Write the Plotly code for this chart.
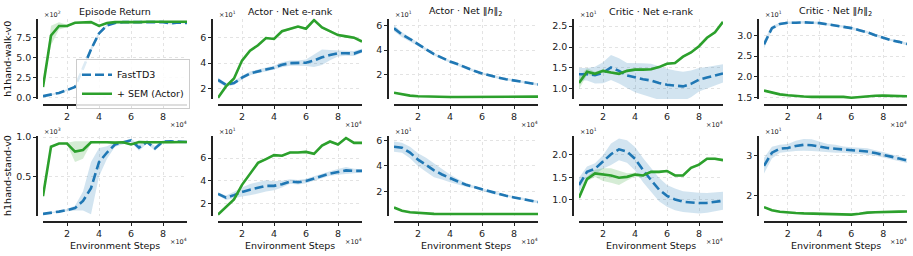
import plotly.graph_objects as go

W, H = 913, 256

steps = [5000, 10000, 15000, 20000, 25000, 30000, 35000, 40000, 45000, 50000,
         55000, 60000, 65000, 70000, 75000, 80000, 85000, 90000, 95000]

# ---------------- h1hand-walk-v0 ----------------
walk_ret_fast = [19, 36, 60, 95, 135, 365, 600, 800, 900, 930, 940, 940, 940, 945, 945, 940, 925, 935, 930]
walk_ret_fast_sd = [5, 8, 10, 12, 15, 30, 30, 20, 10, 8, 8, 8, 8, 8, 8, 10, 15, 10, 10]
walk_ret_sem = [134, 774, 893, 893, 932, 940, 940, 893, 930, 940, 940, 935, 940, 945, 945, 942, 945, 945, 945]
walk_ret_sem_sd = [20, 120, 45, 15, 10, 8, 8, 15, 10, 8, 8, 8, 8, 8, 8, 8, 8, 8, 8]

walk_erank_actor_fast = [26.8, 23.0, 24.3, 28.6, 31.9, 33.7, 35.0, 36.4, 38.7, 40.0, 40.0, 40.3, 42.0, 44.6, 46.3, 47.8, 47.8, 47.5, 49.7]
walk_erank_actor_fast_sd = [2, 1.5, 1.5, 1.5, 1.5, 1.5, 1.5, 1.5, 2, 2, 2, 2.5, 5, 6, 4, 2.5, 2, 2, 1.5]
walk_erank_actor_sem = [12.9, 21.7, 28.0, 42.0, 49.7, 54.0, 59.7, 59.0, 65.0, 66.7, 68.7, 67.0, 73.8, 68.0, 65.0, 62.0, 61.0, 60.0, 57.0]
walk_erank_actor_sem_sd = [1, 1, 1, 1, 1, 1, 1, 1, 1, 1, 1, 1, 1, 1, 1, 1, 1, 1, 1]

walk_hnorm_actor_fast = [57.7, 52.5, 49.0, 44.6, 40.7, 36.8, 33.7, 30.9, 28.6, 25.7, 23.4, 21.3, 19.5, 17.9, 16.6, 15.6, 14.5, 13.4, 12.4]
walk_hnorm_actor_fast_sd = [2.5, 2, 1.5, 1.2, 1, 1, 1, 1, 1, 1, 1, 1, 1, 1, 1, 1, 1, 1, 1]
walk_hnorm_actor_sem = [5.7, 4.4, 3.4, 2.9, 2.6, 2.5, 2.4, 2.3, 2.3, 2.3, 2.3, 2.3, 2.3, 2.4, 2.4, 2.4, 2.5, 2.5, 2.6]
walk_hnorm_actor_sem_sd = [0.4] * 19

walk_erank_critic_fast = [13.5, 13.5, 13.3, 13.85, 15.1, 14.3, 13.2, 12.7, 12.3, 12.0, 11.4, 11.0, 10.8, 10.6, 11.2, 12.2, 12.7, 13.2, 13.7]
walk_erank_critic_fast_sd = [1.5, 1.5, 2, 2.5, 3, 3, 3, 3.5, 3.8, 4, 4, 3.8, 3.6, 3.5, 3.2, 2.8, 2.5, 2.4, 2.2]
walk_erank_critic_sem = [11.4, 14.1, 13.6, 14.3, 13.9, 13.6, 14.3, 14.6, 14.6, 14.7, 15.2, 16.0, 16.2, 17.7, 18.7, 20.2, 22.2, 23.5, 26.0]
walk_erank_critic_sem_sd = [1.5, 0.8, 0.5, 0.4, 0.3, 0.3, 0.3, 0.3, 0.3, 0.3, 0.3, 0.3, 0.3, 0.3, 0.3, 0.3, 0.3, 0.3, 0.3]

walk_hnorm_critic_fast = [27.8, 31.7, 32.7, 33.0, 33.0, 33.1, 33.0, 32.9, 32.6, 32.3, 32.1, 31.7, 31.2, 30.7, 30.0, 29.4, 28.8, 28.4, 27.9]
walk_hnorm_critic_fast_sd = [1, 0.5, 0.3, 0.3, 0.3, 0.3, 0.3, 0.3, 0.3, 0.3, 0.3, 0.3, 0.3, 0.3, 0.3, 0.3, 0.3, 0.3, 0.3]
walk_hnorm_critic_sem = [16.7, 16.2, 15.8, 15.6, 15.4, 15.3, 15.2, 15.2, 15.2, 15.2, 15.2, 15.0, 15.2, 15.3, 15.45, 15.5, 15.5, 15.4, 15.35]
walk_hnorm_critic_sem_sd = [0.2] * 19

# ---------------- h1hand-stand-v0 ----------------
stand_ret_fast = [32, 44, 61, 80, 105, 195, 357, 683, 805, 906, 930, 958, 866, 937, 857, 943, 945, 945, 937]
stand_ret_fast_sd = [5, 8, 10, 15, 30, 120, 330, 180, 80, 30, 20, 20, 40, 20, 30, 15, 10, 10, 10]
stand_ret_sem = [256, 878, 918, 918, 817, 837, 934, 937, 934, 930, 934, 906, 937, 934, 930, 934, 934, 934, 937]
stand_ret_sem_sd = [20, 15, 10, 10, 130, 110, 15, 10, 10, 10, 10, 10, 10, 10, 10, 10, 10, 10, 10]

stand_erank_actor_fast = [28.3, 24.9, 27.2, 30.0, 32.0, 33.5, 35.4, 35.4, 36.9, 39.2, 38.6, 39.7, 42.0, 44.3, 46.3, 47.7, 49.1, 48.6, 48.6]
stand_erank_actor_fast_sd = [1.5, 2, 3, 4, 5, 5, 5, 4, 3, 2, 2, 2, 2, 2, 2, 2.5, 3, 2, 1.5]
stand_erank_actor_sem = [10.0, 16.3, 23.4, 36.3, 46.3, 55.7, 59.1, 62.6, 62.0, 64.9, 64.9, 65.4, 63.7, 71.1, 74.6, 72.0, 77.7, 73.4, 73.4]
stand_erank_actor_sem_sd = [1] * 19

stand_hnorm_actor_fast = [55.0, 54.2, 50.4, 44.8, 40.8, 36.5, 33.2, 30.2, 27.7, 25.1, 23.4, 21.3, 19.5, 18.0, 16.5, 15.2, 14.2, 12.9, 11.6]
stand_hnorm_actor_fast_sd = [4, 4, 4.5, 5, 5.5, 5.5, 4, 3, 2, 1.5, 1, 1, 1, 1, 1, 1, 1, 1, 1]
stand_hnorm_actor_sem = [7.3, 4.8, 3.5, 3.0, 2.5, 2.3, 2.2, 2.2, 2.1, 2.1, 2.1, 2.1, 2.1, 2.1, 2.1, 2.1, 2.1, 2.2, 2.2]
stand_hnorm_actor_sem_sd = [0.4] * 19

stand_erank_critic_fast = [13.3, 16.2, 16.9, 18.4, 20.1, 21.2, 20.7, 19.1, 16.6, 14.4, 12.3, 10.9, 10.1, 9.6, 9.4, 9.3, 9.35, 9.5, 9.8]
stand_erank_critic_fast_sd = [1.6, 1.2, 1.2, 1.5, 2.4, 2.4, 2.5, 2.6, 2.7, 2.7, 2.6, 2.4, 2.4, 2.3, 2.3, 2.3, 2.2, 2.1, 2.0]
stand_erank_critic_sem = [10.5, 14.6, 15.85, 15.6, 15.4, 14.9, 15.1, 15.6, 15.4, 16.2, 16.2, 16.4, 15.4, 15.4, 17.1, 17.8, 19.1, 19.1, 18.8]
stand_erank_critic_sem_sd = [0.5, 0.5, 0.8, 1.4, 1.6, 1.6, 0.8, 0.4, 0.3, 0.3, 0.3, 0.3, 0.3, 0.3, 0.3, 0.3, 0.3, 0.3, 0.3]

stand_hnorm_critic_fast = [27.5, 30.8, 31.8, 32.0, 32.5, 32.8, 32.7, 32.3, 32.0, 31.8, 31.6, 31.4, 31.3, 31.1, 30.7, 30.3, 29.8, 29.3, 28.8]
stand_hnorm_critic_fast_sd = [2, 1.5, 1, 1, 1.3, 1.5, 1.5, 1.2, 1, 1, 0.8, 0.8, 0.8, 0.8, 0.7, 0.7, 0.6, 0.6, 0.6]
stand_hnorm_critic_sem = [17.0, 16.2, 15.8, 15.6, 15.5, 15.4, 15.35, 15.3, 15.3, 15.3, 15.2, 15.1, 15.3, 15.6, 15.7, 15.8, 15.8, 15.85, 15.9]
stand_hnorm_critic_sem_sd = [0.2] * 19

# ---------------- labels / ticks ----------------
titles = ["Episode Return", "Actor · Net e-rank", "Actor · Net ‖<i>h</i>‖<sub>2</sub>",
          "Critic · Net e-rank", "Critic · Net ‖<i>h</i>‖<sub>2</sub>"]
row_labels = ["h1hand-walk-v0", "h1hand-stand-v0"]
series_names = ["FastTD3", "+ SEM (Actor)"]
x_tickvals = [20000, 40000, 60000, 80000]
x_ticktext = ["2", "4", "6", "8"]

y_ranges = [[-15, 985], [11.9, 75], [0.7, 65.5], [7.6, 26.8], [14.7, 34.0],
            [4, 1016], [8.6, 79.7], [0.5, 63.6], [6.4, 24.2], [14.7, 35.1]]
y_tickvals = [[0, 250, 500, 750], [20, 40, 60], [20, 40, 60], [10, 15, 20, 25], [15, 20, 25, 30],
              [500, 1000], [20, 40, 60], [20, 40, 60], [10, 15, 20], [20, 30]]
y_ticktext = [["0.0", "2.5", "5.0", "7.5"], ["2", "4", "6"], ["2", "4", "6"],
              ["1.0", "1.5", "2.0", "2.5"], ["1.5", "2.0", "2.5", "3.0"],
              ["0.5", "1.0"], ["2", "4", "6"], ["2", "4", "6"], ["1.0", "1.5", "2.0"], ["2", "3"]]
y_offsets = ["2", "1", "1", "1", "1", "3", "1", "1", "1", "1"]

panels = [
    (walk_ret_fast, walk_ret_fast_sd, walk_ret_sem, walk_ret_sem_sd),
    (walk_erank_actor_fast, walk_erank_actor_fast_sd, walk_erank_actor_sem, walk_erank_actor_sem_sd),
    (walk_hnorm_actor_fast, walk_hnorm_actor_fast_sd, walk_hnorm_actor_sem, walk_hnorm_actor_sem_sd),
    (walk_erank_critic_fast, walk_erank_critic_fast_sd, walk_erank_critic_sem, walk_erank_critic_sem_sd),
    (walk_hnorm_critic_fast, walk_hnorm_critic_fast_sd, walk_hnorm_critic_sem, walk_hnorm_critic_sem_sd),
    (stand_ret_fast, stand_ret_fast_sd, stand_ret_sem, stand_ret_sem_sd),
    (stand_erank_actor_fast, stand_erank_actor_fast_sd, stand_erank_actor_sem, stand_erank_actor_sem_sd),
    (stand_hnorm_actor_fast, stand_hnorm_actor_fast_sd, stand_hnorm_actor_sem, stand_hnorm_actor_sem_sd),
    (stand_erank_critic_fast, stand_erank_critic_fast_sd, stand_erank_critic_sem, stand_erank_critic_sem_sd),
    (stand_hnorm_critic_fast, stand_hnorm_critic_fast_sd, stand_hnorm_critic_sem, stand_hnorm_critic_sem_sd),
]

# ---------------- layout geometry (pixels) ----------------
col_px = [(43, 187), (218, 362), (394, 538), (579, 723), (764, 907)]
row_px = [(15, 98), (136, 219)]
OFF = 6

BLUE = "#1f77b4"
GREEN = "#2ca02c"
BLUE_F = "rgba(31,119,180,0.2)"
GREEN_F = "rgba(44,160,44,0.2)"
FONT = "DejaVu Sans"


def fx(p):
    return p / W


def fy(p):
    return 1 - p / H


fig = go.Figure()
annotations = []
layout = {}

for k, (fast, fast_sd, sem, sem_sd) in enumerate(panels):
    r, c = divmod(k, 5)
    idx = k + 1
    xa = "x" if idx == 1 else f"x{idx}"
    ya = "y" if idx == 1 else f"y{idx}"
    x0, x1 = col_px[c]
    top, bot = row_px[r]

    for mean, sd, fc in ((fast, fast_sd, BLUE_F), (sem, sem_sd, GREEN_F)):
        upper = [m + s for m, s in zip(mean, sd)]
        lower = [m - s for m, s in zip(mean, sd)]
        fig.add_trace(go.Scatter(x=steps + steps[::-1], y=upper + lower[::-1], fill="toself",
                                 fillcolor=fc, line=dict(width=0), mode="lines",
                                 hoverinfo="skip", showlegend=False, xaxis=xa, yaxis=ya))
    fig.add_trace(go.Scatter(x=steps, y=fast, mode="lines", name=series_names[0],
                             line=dict(color=BLUE, width=2.6, dash="9px,4px"),
                             showlegend=(k == 0), xaxis=xa, yaxis=ya))
    fig.add_trace(go.Scatter(x=steps, y=sem, mode="lines", name=series_names[1],
                             line=dict(color=GREEN, width=2.6),
                             showlegend=(k == 0), xaxis=xa, yaxis=ya))

    layout[f"xaxis{idx}"] = dict(
        domain=[fx(x0), fx(x1)], range=[5000, 95000], anchor="free", position=fy(bot + OFF),
        tickvals=x_tickvals, ticktext=x_ticktext, ticks="outside", ticklen=3, tickwidth=1,
        tickcolor="#222", showline=True, linecolor="#222", linewidth=1.6,
        showgrid=True, gridcolor="#e3e3e3", griddash="dot", gridwidth=0.8, zeroline=False,
        tickfont=dict(size=9.5, color="#222", family=FONT))
    layout[f"yaxis{idx}"] = dict(
        domain=[fy(bot), fy(top)], range=y_ranges[k], anchor="free", position=fx(x0 - OFF),
        tickvals=y_tickvals[k], ticktext=y_ticktext[k], ticks="outside", ticklen=3, tickwidth=1,
        tickcolor="#222", showline=True, linecolor="#222", linewidth=1.6,
        showgrid=True, gridcolor="#e3e3e3", griddash="dot", gridwidth=0.8, zeroline=False,
        tickfont=dict(size=9.5, color="#222", family=FONT))

    # offset text (scientific multipliers)
    annotations.append(dict(text=f"×10<sup>{y_offsets[k]}</sup>", x=fx(x0 - 1), y=fy(top - 4),
                            xref="paper", yref="paper", xanchor="left", yanchor="middle",
                            showarrow=False, font=dict(size=6.5, color="#222", family=FONT)))
    annotations.append(dict(text="×10<sup>4</sup>", x=fx(x1 + 2), y=fy(bot + OFF + 20),
                            xref="paper", yref="paper", xanchor="right", yanchor="middle",
                            showarrow=False, font=dict(size=6.5, color="#222", family=FONT)))
    if r == 0:
        annotations.append(dict(text=titles[c], x=fx((x0 + x1) / 2), y=fy(8),
                                xref="paper", yref="paper", xanchor="center", yanchor="middle",
                                showarrow=False, font=dict(size=9.5, color="#111", family=FONT)))
    else:
        annotations.append(dict(text="Environment Steps", x=fx((x0 + x1) / 2), y=fy(249),
                                xref="paper", yref="paper", xanchor="center", yanchor="middle",
                                showarrow=False, font=dict(size=9.5, color="#111", family=FONT)))

for r, lab in enumerate(row_labels):
    top, bot = row_px[r]
    annotations.append(dict(text=lab, x=fx(8), y=fy((top + bot) / 2), xref="paper", yref="paper",
                            xanchor="center", yanchor="middle", textangle=-90, showarrow=False,
                            font=dict(size=9.5, color="#111", family=FONT)))

layout["xaxis"] = layout.pop("xaxis1")
layout["yaxis"] = layout.pop("yaxis1")

fig.update_layout(
    width=W, height=H, margin=dict(l=0, r=0, t=0, b=0),
    paper_bgcolor="white", plot_bgcolor="white",
    font=dict(family=FONT, size=9.5, color="#222"),
    showlegend=True,
    legend=dict(x=fx(76), y=fy(57), xanchor="left", yanchor="top",
                bgcolor="rgba(255,255,255,0.85)", bordercolor="#cccccc", borderwidth=1,
                font=dict(size=9.5, family=FONT, color="#111"), itemwidth=30,
                tracegroupgap=0),
    annotations=annotations,
    **layout,
)

fig.write_html("out.html", config={"displayModeBar": False},
               post_script="document.body.style.margin='0';document.body.style.overflow='hidden';")
